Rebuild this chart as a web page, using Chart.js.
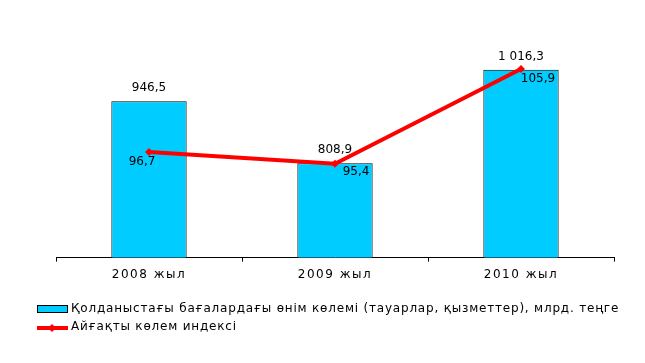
<!DOCTYPE html>
<html lang="kk">
  <head>
    <meta charset="UTF-8" />
    <title>Өнім көлемі</title>
    <script src="https://cdn.jsdelivr.net/npm/chart.js@4.4.1/dist/chart.umd.min.js"></script>
    <style>
      html,
      body {
        margin: 0;
        padding: 0;
        background: #ffffff;
      }
      canvas {
        display: block;
      }
    </style>
  </head>
  <body>
    <canvas id="chart" width="645" height="363"></canvas>

    <script>
      // data
      const categories = ["2008 жыл", "2009 жыл", "2010 жыл"];
      const volumeValues = [946.5, 808.9, 1016.3];
      const indexValues = [96.7, 95.4, 105.9];
      const seriesNames = [
        "Қолданыстағы бағалардағы өнім көлемі (тауарлар, қызметтер), млрд. теңге",
        "Айғақты көлем индексі",
      ];

      const FONT = "12px 'DejaVu Sans'";

      // 1016.3 -> "1 016,3"
      const fmt = (v) => {
        const parts = v.toFixed(1).split(".");
        const int = parts[0].replace(/\B(?=(\d{3})+(?!\d))/g, " ");
        return int + "," + parts[1];
      };

      // offsets of the index labels from their points (hand placed in the original)
      const indexLabelOffsets = [
        [-7, 10],
        [21, 8],
        [17, 10],
      ];

      // wide spacing for the category labels, off again for the rest
      const spacing = {
        id: "spacing",
        beforeDraw(chart) {
          chart.ctx.letterSpacing = "1.5px";
        },
        beforeDatasetsDraw(chart) {
          chart.ctx.letterSpacing = "0px";
        },
      };

      const valueLabels = {
        id: "valueLabels",
        afterDatasetsDraw(chart) {
          const ctx = chart.ctx;
          ctx.save();
          ctx.font = FONT;
          ctx.fillStyle = "#000";
          ctx.textAlign = "center";
          ctx.textBaseline = "middle";

          const bars = chart.getDatasetMeta(0).data;
          bars.forEach((bar, i) => {
            ctx.fillText(fmt(volumeValues[i]), bar.x, bar.y - 13);
          });

          const points = chart.getDatasetMeta(1).data;
          points.forEach((pt, i) => {
            const off = indexLabelOffsets[i];
            ctx.fillText(fmt(indexValues[i]), pt.x + off[0], pt.y + off[1]);
          });
          ctx.restore();
        },
      };

      const bottomLegend = {
        id: "bottomLegend",
        afterDraw(chart) {
          const ctx = chart.ctx;
          ctx.save();
          ctx.font = FONT;
          ctx.textBaseline = "middle";
          ctx.letterSpacing = "0.8px";

          // bar item
          ctx.fillStyle = "#00CCFF";
          ctx.fillRect(37, 305, 31, 8);
          ctx.strokeStyle = "#000";
          ctx.lineWidth = 1;
          ctx.strokeRect(37.5, 305.5, 30, 7);
          ctx.fillStyle = "#000";
          ctx.fillText(seriesNames[0], 71, 309);

          // line item
          ctx.strokeStyle = "#FF0000";
          ctx.lineWidth = 4;
          ctx.beginPath();
          ctx.moveTo(37, 328);
          ctx.lineTo(68, 328);
          ctx.stroke();
          ctx.fillStyle = "#FF0000";
          ctx.beginPath();
          ctx.moveTo(52, 324);
          ctx.lineTo(56, 328);
          ctx.lineTo(52, 332);
          ctx.lineTo(48, 328);
          ctx.closePath();
          ctx.fill();
          ctx.fillStyle = "#000";
          ctx.fillText(seriesNames[1], 71, 327);
          ctx.restore();
        },
      };

      const ctx = document.getElementById("chart").getContext("2d");
      const chart = new Chart(ctx, {
        type: "bar",
        data: {
          labels: categories,
          datasets: [
            {
              type: "bar",
              label: seriesNames[0],
              data: volumeValues,
              backgroundColor: "#00CCFF",
              borderColor: "#000000",
              borderWidth: 1,
              borderSkipped: "bottom",
              barPercentage: 0.405,
              categoryPercentage: 1,
              yAxisID: "y",
              order: 1,
            },
            {
              type: "line",
              label: seriesNames[1],
              data: indexValues,
              borderColor: "#FF0000",
              backgroundColor: "#FF0000",
              borderWidth: 4,
              pointStyle: "rectRot",
              pointRadius: 4,
              pointBorderWidth: 0,
              tension: 0,
              yAxisID: "y2",
              order: 0,
            },
          ],
        },
        options: {
          responsive: false,
          animation: false,
          layout: {
            padding: { top: 32, left: 56, right: 31, bottom: 75 },
          },
          plugins: {
            legend: { display: false },
            tooltip: { enabled: false },
          },
          scales: {
            x: {
              offset: true,
              grid: {
                offset: true,
                drawOnChartArea: false,
                drawTicks: true,
                tickLength: 4,
                color: "#000",
              },
              border: { display: true, color: "#000", width: 1 },
              ticks: {
                color: "#000",
                font: { family: "DejaVu Sans", size: 12 },
                padding: 6,
              },
            },
            y: {
              display: false,
              min: 600,
              max: 1100,
            },
            y2: {
              display: false,
              position: "right",
              min: 85,
              max: 110,
            },
          },
        },
        plugins: [spacing, valueLabels, bottomLegend],
      });
    </script>
  </body>
</html>
